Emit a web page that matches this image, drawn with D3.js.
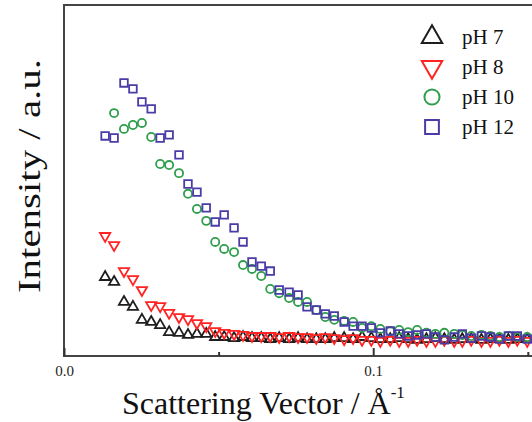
<!DOCTYPE html>
<html>
<head>
<meta charset="utf-8">
<script src="https://cdn.jsdelivr.net/npm/d3@7"></script>
<style>
  body { margin: 0; background: #fff; }
  text { font-family: "Liberation Serif", "Times New Roman", serif; }
</style>
</head>
<body>
<div id="wrapper"></div>
<script>
// scattering vector (1/A), shared by all four series
const q = [0.0133, 0.0162, 0.0194, 0.0223, 0.0252, 0.0282, 0.0311, 0.0340, 0.0372, 0.0401,
  0.0430, 0.0460, 0.0489, 0.0518, 0.0550, 0.0579, 0.0608, 0.0638, 0.0667, 0.0696,
  0.0728, 0.0757, 0.0786, 0.0816, 0.0845, 0.0874, 0.0906, 0.0935, 0.0964, 0.0994,
  0.1023, 0.1055, 0.1084, 0.1113, 0.1142, 0.1172, 0.1201, 0.1230, 0.1262, 0.1288,
  0.1317, 0.1350, 0.1379, 0.1408, 0.1437, 0.1466, 0.1498]

// intensities (a.u.)
const pH7 = [22.5, 21.1, 15.4, 14.0, 10.3, 9.7, 8.8, 6.8, 6.6, 6.0,
  6.3, 6.3, 5.4, 5.4, 5.1, 5.4, 5.1, 5.1, 4.8, 5.1,
  4.8, 5.1, 4.8, 4.8, 4.8, 5.1, 5.1, 4.8, 5.4, 5.1,
  4.8, 4.8, 5.1, 4.8, 4.6, 4.8, 5.1, 4.8, 4.6, 4.8,
  4.8, 4.6, 4.8, 4.8, 4.6, 4.8, 4.8]
const pH8 = [34.2, 31.6, 24.2, 21.9, 18.8, 14.5, 14.2, 12.3, 11.1, 10.5,
  9.4, 8.5, 7.1, 6.6, 6.3, 6.0, 5.7, 5.7, 5.7, 5.4,
  5.7, 5.4, 5.4, 5.1, 5.4, 5.1, 4.8, 5.1, 4.6, 4.6,
  4.3, 4.6, 4.3, 4.3, 4.6, 4.3, 4.3, 4.6, 4.3, 4.3,
  4.6, 4.3, 4.3, 4.6, 4.3, 4.6, 4.3]
const pH10 = [null, 69.2, 64.7, 65.8, 66.4, 62.4, 54.7, 54.4, 52.1, 46.2,
  41.9, 38.5, 32.5, 30.5, 29.6, 25.9, 24.8, 22.8, 19.1, 17.9,
  16.5, 15.4, 15.4, 13.1, 11.1, 10.3, 10.0, 9.7, 8.0, 8.5,
  7.7, 7.1, 7.4, 6.8, 7.4, 6.6, 6.3, 6.6, 6.3, 6.0,
  5.7, 6.0, 5.7, 5.4, 5.7, 5.4, 5.4]
const pH12 = [62.7, 62.1, 77.8, 76.1, 72.4, 70.4, 62.1, 63.0, 57.3, 49.0,
  46.7, 42.2, 38.2, 40.2, 36.5, 32.5, 26.8, 25.6, 24.2, 18.8,
  18.2, 17.4, 14.0, 13.1, 12.0, 11.4, 9.7, 8.5, 8.5, 8.0,
  6.6, 7.1, 6.3, 5.7, 6.0, 6.3, 5.4, 4.6, 5.4, 6.3,
  5.1, 5.7, 5.4, 4.8, 5.7, 5.7, 4.8]

const seriesNames = ["pH 7", "pH 8", "pH 10", "pH 12"]
const seriesColors = ["#1e1e1e", "#ff2323", "#2f9e4c", "#4a3ca6"]

function drawChart() {
  const dimensions = {
    width: 532,
    height: 422,
    margin: { top: 5, right: -2, bottom: 66, left: 64 },
  }
  dimensions.boundedWidth = dimensions.width - dimensions.margin.left - dimensions.margin.right
  dimensions.boundedHeight = dimensions.height - dimensions.margin.top - dimensions.margin.bottom

  const xAccessor = d => d.q
  const yAccessor = d => d.v

  const wrapper = d3.select("#wrapper")
    .append("svg")
      .attr("width", dimensions.width)
      .attr("height", dimensions.height)

  const bounds = wrapper.append("g")
      .attr("transform", `translate(${dimensions.margin.left},${dimensions.margin.top})`)

  const xScale = d3.scaleLinear()
      .domain([0, 0.152])
      .range([0, dimensions.boundedWidth])

  const yScale = d3.scaleLinear()
      .domain([0, 100])
      .range([dimensions.boundedHeight, 0])

  // marker shapes
  const shapes = [
    { type: d3.symbolTriangle, rot: 0, size: 46, legendSize: 180 },
    { type: d3.symbolTriangle, rot: 180, size: 46, legendSize: 180 },
    { type: d3.symbolCircle, rot: 0, size: 52, legendSize: 180 },
    { type: d3.symbolSquare, rot: 0, size: 58, legendSize: 190 },
  ]

  const series = [pH7, pH8, pH10, pH12].map((vals, i) => ({
    name: seriesNames[i],
    color: seriesColors[i],
    shape: shapes[i],
    points: vals.map((v, j) => ({ q: q[j], v: v })).filter(d => d.v != null),
  }))

  wrapper.append("defs").append("clipPath").attr("id", "plotclip")
    .append("rect")
      .attr("width", dimensions.boundedWidth)
      .attr("height", dimensions.boundedHeight)

  const dotsLayer = bounds.append("g").attr("clip-path", "url(#plotclip)")

  series.forEach(s => {
    dotsLayer.append("g")
      .selectAll("path")
      .data(s.points)
      .enter().append("path")
        .attr("d", d3.symbol().type(s.shape.type).size(s.shape.size))
        .attr("transform", d => `translate(${xScale(xAccessor(d))},${yScale(yAccessor(d))}) rotate(${s.shape.rot})`)
        .attr("fill", "none")
        .attr("stroke", s.color)
        .attr("stroke-width", 1.8)
  })

  // frame
  bounds.append("rect")
      .attr("width", dimensions.boundedWidth)
      .attr("height", dimensions.boundedHeight)
      .attr("fill", "none")
      .attr("stroke", "#444")
      .attr("stroke-width", 2)

  // x axis, ticks pointing inward
  const xAxisGenerator = d3.axisBottom(xScale)
      .tickValues([0, 0.1])
      .tickFormat(d3.format(".1f"))
      .tickSizeInner(-8)
      .tickSizeOuter(0)
      .tickPadding(9)

  const xAxis = bounds.append("g")
      .attr("transform", `translate(0,${dimensions.boundedHeight})`)
      .call(xAxisGenerator)
  xAxis.select(".domain").remove()
  xAxis.selectAll("line").attr("stroke", "#333").attr("stroke-width", 2)
  xAxis.selectAll("text")
      .attr("fill", "#222")
      .style("font-size", "15px")
      .style("font-family", "Liberation Serif, serif")

  const xMinor = bounds.append("g")
      .attr("transform", `translate(0,${dimensions.boundedHeight})`)
      .call(d3.axisBottom(xScale).tickValues([0.05, 0.15]).tickSizeInner(-4).tickSizeOuter(0).tickFormat(""))
  xMinor.select(".domain").remove()
  xMinor.selectAll("line").attr("stroke", "#333").attr("stroke-width", 2)

  // axis labels
  const xLabel = wrapper.append("text")
      .attr("x", 122)
      .attr("y", 414)
      .attr("fill", "#111")
      .style("font-size", "32px")
  xLabel.append("tspan").text("Scattering Vector / Å")
  xLabel.append("tspan")
      .attr("dy", -16)
      .style("font-size", "17px")
      .text("-1")

  wrapper.append("text")
      .attr("transform", "translate(40,176) rotate(-90)")
      .attr("text-anchor", "middle")
      .attr("fill", "#111")
      .attr("textLength", 234)
      .attr("lengthAdjust", "spacingAndGlyphs")
      .style("font-size", "31px")
      .text("Intensity / a.u.")

  // legend
  const legend = wrapper.append("g")
  const legendY = d3.scalePoint().domain(seriesNames).range([37, 127])
  series.forEach(s => {
    const y = legendY(s.name)
    legend.append("path")
        .attr("d", d3.symbol().type(s.shape.type).size(s.shape.legendSize))
        .attr("transform", `translate(432,${y}) rotate(${s.shape.rot})`)
        .attr("fill", "none")
        .attr("stroke", s.color)
        .attr("stroke-width", 2)
    legend.append("text")
        .attr("x", 462)
        .attr("y", y)
        .attr("dy", "0.35em")
        .attr("fill", "#111")
        .style("font-size", "21px")
        .text(s.name)
  })
}
drawChart()
</script>
</body>
</html>
